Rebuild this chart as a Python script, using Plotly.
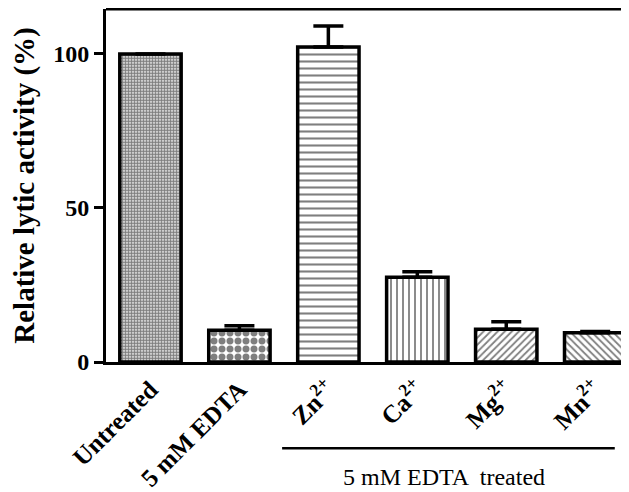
import plotly.graph_objects as go

categories = ["Untreated", "5 mM EDTA", "Zn<sup>2+</sup>", "Ca<sup>2+</sup>", "Mg<sup>2+</sup>", "Mn<sup>2+</sup>"]
activity = [100, 10.3, 102.3, 27.5, 10.6, 9.5]
error_up = [0, 1.5, 6.8, 1.8, 2.5, 0.4]
patterns = [".", ".", "-", "|", "/", "\\"]
pattern_sizes = [3, 8, 7, 6, 5, 5]
pattern_solidity = [0.7, 0.6, 0.3, 0.3, 0.35, 0.35]
y_ticks = [0, 50, 100]
group_label = "5 mM EDTA  treated"
y_title = "Relative lytic activity (%)"

serif = "Liberation Serif, Times New Roman, serif"

fig = go.Figure()
fig.add_trace(go.Bar(
    x=list(range(len(categories))),
    y=activity,
    width=0.69,
    marker=dict(
        color="white",
        line=dict(color="black", width=3.5),
        pattern=dict(shape=patterns, size=pattern_sizes, solidity=pattern_solidity,
                     fgcolor="black", bgcolor="white", fillmode="overlay"),
    ),
    error_y=dict(type="data", symmetric=False, array=error_up, arrayminus=[0] * len(error_up),
                 color="black", thickness=3.5, width=15),
))

# page body has an 8px default margin, so the figure is sized to fit the window
fig.update_layout(
    width=621, height=484,
    margin=dict(l=98, r=0, t=1, b=130),
    plot_bgcolor="white", paper_bgcolor="white",
    showlegend=False,
    font=dict(family=serif, color="black"),
)
fig.update_xaxes(
    range=[-0.5, 5.38], automargin=False,
    tickmode="array", tickvals=list(range(len(categories))), ticktext=["<b>%s</b>" % c for c in categories],
    tickangle=-45, tickfont=dict(size=25, family=serif),
    showline=True, linecolor="black", linewidth=3,
    ticks="", showgrid=False, zeroline=False,
)
fig.update_yaxes(
    range=[0, 114.6], automargin=False,
    tickmode="array", tickvals=y_ticks, ticktext=["<b>%d</b>" % v for v in y_ticks],
    tickfont=dict(size=24, family=serif),
    ticks="outside", ticklen=9, tickwidth=2.5, tickcolor="black",
    showline=True, linecolor="black", linewidth=3,
    showgrid=False, zeroline=False,
    title=dict(text="<b>%s</b>" % y_title, font=dict(size=29, family=serif), standoff=11),
)
fig.add_shape(type="line", xref="paper", yref="paper", x0=0, x1=1, y0=1, y1=1,
              line=dict(color="black", width=3))
fig.add_shape(type="line", xref="x", yref="paper", x0=1.48, x1=5.22, y0=-0.244, y1=-0.244,
              line=dict(color="black", width=2.5))
fig.add_annotation(x=3.3, y=-0.326, xref="x", yref="paper", yanchor="middle", text=group_label,
                   showarrow=False, font=dict(size=24, family=serif, color="black"))

fig.write_html("out.html")
